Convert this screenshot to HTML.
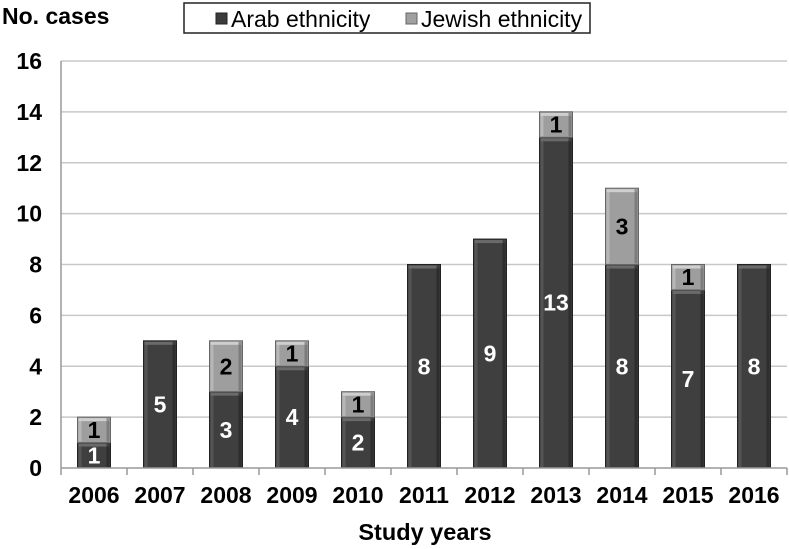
<!DOCTYPE html>
<html><head><meta charset="utf-8"><style>
body{margin:0;background:#fff;}
svg{display:block;font-family:"Liberation Sans",Arial,sans-serif;}
</style></head><body>
<svg id="chart" width="789" height="549">
<text x="2" y="24" font-size="23" font-weight="bold">No. cases</text>
<g>
<rect x="184" y="3" width="406" height="30" fill="#fff" stroke="#222" stroke-width="1.5"/>
<rect x="216" y="13" width="11" height="11" fill="#3c3c3c" stroke="#222"/>
<text x="231" y="27" font-size="23">Arab ethnicity</text>
<rect x="406" y="13" width="11" height="11" fill="#a0a0a0" stroke="#666"/>
<text x="421" y="27" font-size="23">Jewish ethnicity</text>
</g>
<g id="grid"></g><g id="bars"></g><g id="axes"></g>
<text x="425" y="540" font-size="23.5" font-weight="bold" text-anchor="middle">Study years</text>
</svg>
<script>
const categories=["2006","2007","2008","2009","2010","2011","2012","2013","2014","2015","2016"];
const arab=[1,5,3,4,2,8,9,13,8,7,8];
const jewish=[1,0,2,1,1,0,0,1,3,1,0];
const yTicks=[0,2,4,6,8,10,12,14,16];
const NS="http://www.w3.org/2000/svg";
const x0=61,x1=787,y0=468,y1=61,yMax=16;
const band=(x1-x0)/categories.length,bw=33;
const ys=v=>y0-v/yMax*(y0-y1);
const xc=i=>x0+band*(i+0.5);
function mk(t,a,p){const e=document.createElementNS(NS,t);for(const k in a)e.setAttribute(k,a[k]);p.appendChild(e);return e;}
const grid=document.getElementById('grid'),bars=document.getElementById('bars'),axes=document.getElementById('axes');
yTicks.forEach(v=>{
 if(v>0){const l=mk('line',{x1:x0,x2:x1,y1:ys(v),y2:ys(v),stroke:'#c8c8c8','stroke-width':1.5},grid);
 
 }
 const t=mk('text',{x:42,y:ys(v)+8,'font-size':23,'font-weight':'bold','text-anchor':'end'},axes);t.textContent=v;
 
 
});
const ax=mk('line',{x1:x0,x2:x0,y1:y1,y2:y0,stroke:'#999','stroke-width':1.5},axes);


const bx=mk('line',{x1:x0,x2:x1,y1:y0,y2:y0,stroke:'#999','stroke-width':1.5},axes);


for(let i=0;i<=categories.length;i++){mk('line',{x1:x0+band*i,x2:x0+band*i,y1:y0,y2:y0+7,stroke:'#999','stroke-width':1.5},axes);}
function seg(i,lo,hi,fill,light,dark,val,tc,name){
 if(hi<=lo)return;
 const g=mk('g',{},bars);
 
 
 const x=xc(i)-bw/2,yt=ys(hi),yb=ys(lo),h=yb-yt;
 mk('rect',{x:x,y:yt,width:bw,height:h,fill:fill,stroke:dark,'stroke-width':1},g);
 mk('rect',{x:x+1,y:yt+1,width:bw-2,height:3,fill:light},g);
 mk('rect',{x:x+1,y:yt+1,width:3,height:h-2,fill:light,opacity:0.5},g);
 mk('rect',{x:x+bw-4,y:yt+1,width:3,height:h-2,fill:dark,opacity:0.6},g);
 const t=mk('text',{x:xc(i),y:(yt+yb)/2+8,'font-size':23,'font-weight':'bold','text-anchor':'middle',fill:tc},g);t.textContent=val;
}
categories.forEach((c,i)=>{
 seg(i,0,arab[i],'#3f3f3f','#6a6a6a','#222',arab[i],'#fff','bar-arab');
 seg(i,arab[i],arab[i]+jewish[i],'#9e9e9e','#cfcfcf','#666',jewish[i],'#000','bar-jewish');
 const t=mk('text',{x:xc(i),y:y0+35,'font-size':23,'font-weight':'bold','text-anchor':'middle'},axes);t.textContent=c;
 
 
});
</script>
</body></html>
